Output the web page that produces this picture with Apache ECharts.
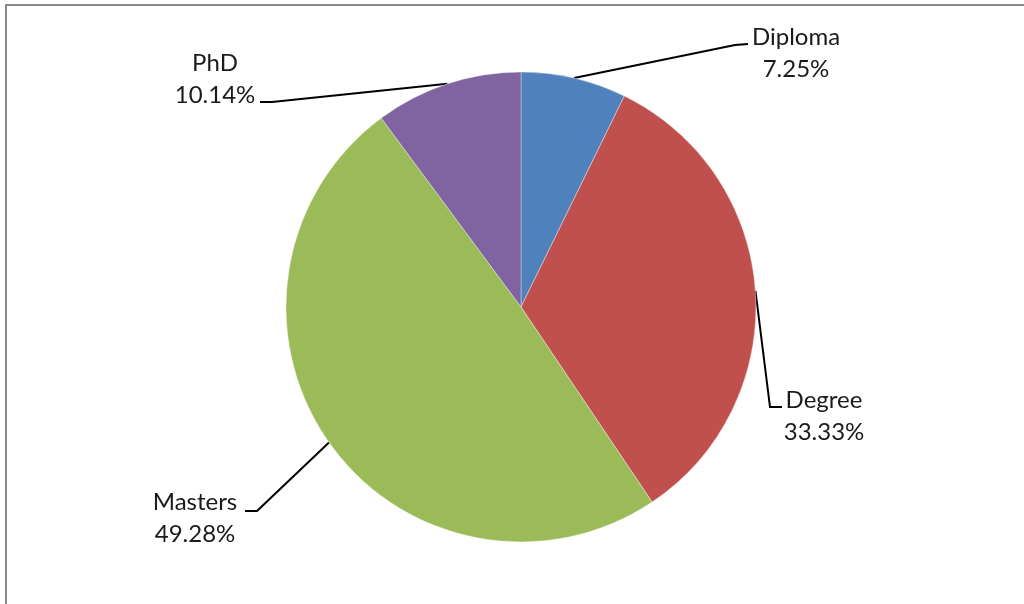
<!DOCTYPE html>
<html>
<head>
<meta charset="utf-8">
<script src="https://cdn.jsdelivr.net/npm/echarts@6/dist/echarts.min.js"></script>
<style>
html,body{margin:0;padding:0;background:#fff;}
#chart{position:absolute;left:0;top:0;width:1024px;height:604px;}
#frame{position:absolute;left:5px;top:4px;width:1100px;height:700px;border-left:2px solid #878787;border-top:2px solid #878787;pointer-events:none;}
</style>
</head>
<body>
<div id="chart"></div>
<div id="frame"></div>
<script>
const categories = ['Diploma', 'Degree', 'Masters', 'PhD'];
const values = [7.25, 33.33, 49.28, 10.14];
const colors = ['#4F81BD', '#C0504D', '#9BBB59', '#8064A2'];

// label block centres and leader-line bend/end points (layout only)
const labelPos = [
  {x: 796, y: 53, bend: [735, 45], end: [748, 44]},
  {x: 824, y: 416, bend: [770, 407], end: [782, 407]},
  {x: 195, y: 518, bend: [257, 511], end: [245, 511]},
  {x: 215, y: 79, bend: [272, 102], end: [260, 102]}
];

const chart = echarts.init(document.getElementById('chart'));
chart.setOption({
  animation: false,
  series: [{
    type: 'pie',
    center: [521, 307],
    radius: 235,
    startAngle: 90,
    clockwise: true,
    data: categories.map((c, i) => ({name: c, value: values[i], itemStyle: {color: colors[i]}})),
    itemStyle: {borderColor: 'rgba(255,255,255,0.6)', borderWidth: 0.6},
    label: {
      show: true,
      position: 'outside',
      formatter: p => p.name + '\n' + p.value.toFixed(2) + '%',
      fontFamily: 'Lato',
      fontSize: 24,
      lineHeight: 32,
      color: '#1a1a1a',
      align: 'center'
    },
    labelLine: {show: true, length: 10, length2: 10, lineStyle: {color: '#000', width: 2}},
    labelLayout: function (params) {
      const lp = labelPos[params.dataIndex];
      const start = params.labelLinePoints ? params.labelLinePoints[0] : lp.bend;
      return {
        x: lp.x,
        y: lp.y,
        align: 'center',
        verticalAlign: 'middle',
        labelLinePoints: [start, lp.bend, lp.end]
      };
    }
  }]
});
</script>
</body>
</html>
